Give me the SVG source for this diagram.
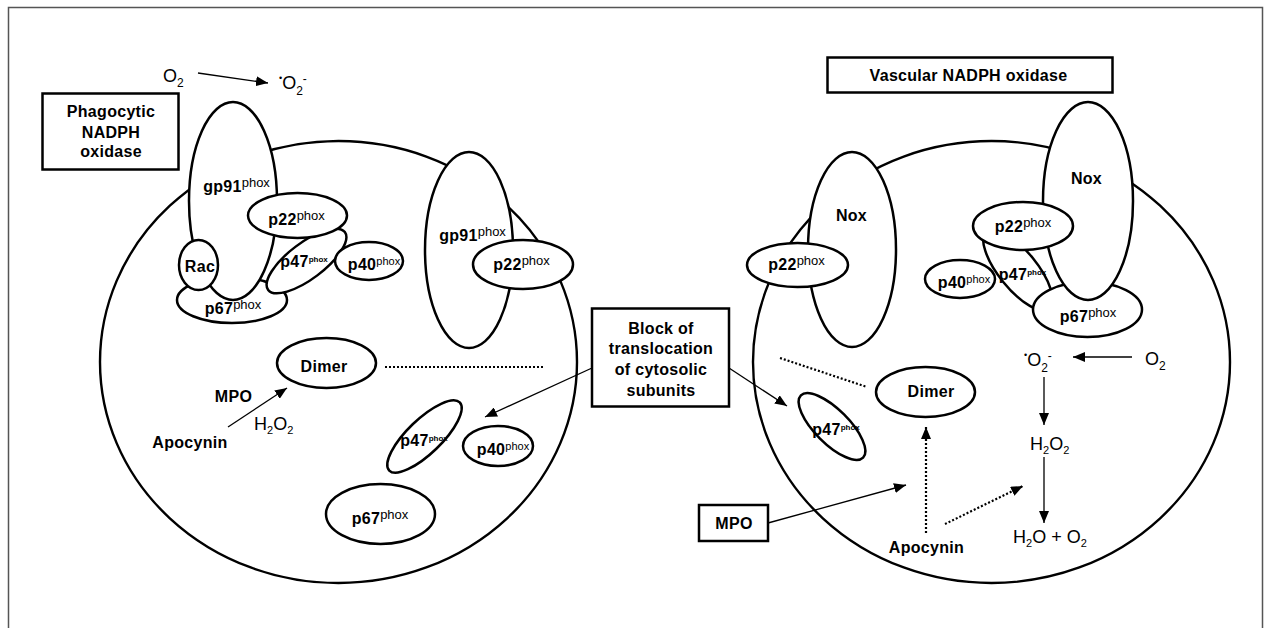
<svg xmlns="http://www.w3.org/2000/svg" width="1264" height="628" viewBox="0 0 1264 628">
<defs>
<style>
.cell{fill:none;stroke:#000;stroke-width:2.4}
.n{fill:#fff;stroke:#000;stroke-width:2.5}
.box{fill:#fff;stroke:#000;stroke-width:2.5}
.t{font-family:"Liberation Sans",Arial,sans-serif;font-weight:bold;font-size:16px;fill:#000;letter-spacing:0.3px}
.sup{font-weight:normal;font-size:13px;letter-spacing:0}
.sup11{font-weight:normal;font-size:11px;letter-spacing:0}
.sup8{font-weight:bold;font-size:8px;letter-spacing:0}
.c{font-family:"Liberation Sans",Arial,sans-serif;font-size:18px;fill:#000}
.ln{stroke:#000;stroke-width:1.3;fill:none}
.dt{stroke:#000;stroke-width:2.2;stroke-dasharray:2 2;fill:none}
</style>
<marker id="ah" viewBox="0 0 12 10" refX="12" refY="5" markerWidth="12" markerHeight="10" markerUnits="userSpaceOnUse" orient="auto"><path d="M0,0 L12,5 L0,10 z" fill="#000"/></marker>
</defs>
<rect width="1264" height="628" fill="#fff"/>
<path d="M8.5 628 V7.5 H1262.5 V628" fill="none" stroke="#555" stroke-width="1.5"/>

<g id="cell-left"><ellipse class="cell" cx="338.5" cy="362" rx="238.5" ry="221"/></g>
<g id="cell-right"><ellipse class="cell" cx="991.5" cy="362" rx="238.5" ry="221"/></g>

<g id="phagocytic-box">
<rect class="box" x="42.5" y="93.5" width="136" height="76"/>
<text class="t" x="111" y="117" text-anchor="middle">Phagocytic</text>
<text class="t" x="111" y="137.5" text-anchor="middle">NADPH</text>
<text class="t" x="111" y="157" text-anchor="middle">oxidase</text>
</g>

<g id="o2-top"><text class="c" x="163" y="82">O<tspan font-size="12" dy="5">2</tspan></text></g>
<g id="superoxide-top"><text class="c" x="279" y="88.5"><tspan font-size="9" dy="-8">•</tspan><tspan dy="8">O</tspan><tspan font-size="12" dy="6.5">2</tspan><tspan font-size="12" dy="-12">-</tspan></text></g>

<g id="p67-left-complex"><ellipse class="n" cx="232" cy="300" rx="55" ry="23"/><text class="t" x="233" y="313.5" text-anchor="middle">p67<tspan class="sup" dy="-5">phox</tspan></text></g>
<g id="p47-left-complex"><ellipse class="n" cx="306.5" cy="261" rx="48" ry="18" transform="rotate(-37 306.5 261)"/><text class="t" x="304" y="267" text-anchor="middle" font-size="15">p47<tspan class="sup8" dy="-5">phox</tspan></text></g>
<g id="gp91-left"><ellipse class="n" cx="233" cy="201" rx="44" ry="99"/><text class="t" x="236.5" y="191.5" text-anchor="middle">gp91<tspan class="sup" dy="-5">phox</tspan></text></g>
<g id="rac"><ellipse class="n" cx="198.5" cy="265" rx="19.5" ry="25"/><text class="t" x="200" y="271.5" text-anchor="middle">Rac</text></g>
<g id="p22-left-complex"><ellipse class="n" cx="297.5" cy="215.5" rx="49.5" ry="22.5"/><text class="t" x="296.5" y="225" text-anchor="middle">p22<tspan class="sup" dy="-5">phox</tspan></text></g>
<g id="p40-left-complex"><ellipse class="n" cx="369" cy="261" rx="34" ry="19"/><text class="t" x="374" y="270" text-anchor="middle">p40<tspan class="sup11" dy="-5">phox</tspan></text></g>

<g id="gp91-left-2"><ellipse class="n" cx="469" cy="250" rx="44" ry="98"/><text class="t" x="472.5" y="240.5" text-anchor="middle">gp91<tspan class="sup" dy="-5">phox</tspan></text></g>
<g id="p22-left-2"><ellipse class="n" cx="523" cy="264.5" rx="50" ry="24.5"/><text class="t" x="521.5" y="270" text-anchor="middle">p22<tspan class="sup" dy="-5">phox</tspan></text></g>

<g id="dimer-left"><ellipse class="n" cx="326.5" cy="363" rx="49.5" ry="25"/><text class="t" x="324" y="371.5" text-anchor="middle">Dimer</text></g>
<g id="mpo-left"><text class="t" x="233.5" y="401.5" text-anchor="middle">MPO</text></g>
<g id="h2o2-left"><text class="c" x="254" y="430" font-size="17">H<tspan font-size="11" dy="4">2</tspan><tspan dy="-4">O</tspan><tspan font-size="11" dy="4">2</tspan></text></g>
<g id="apocynin-left"><text class="t" x="190" y="448" text-anchor="middle">Apocynin</text></g>
<g id="p47-left-free"><ellipse class="n" cx="424.5" cy="436.5" rx="49" ry="17" transform="rotate(-44 424.5 436.5)"/><text class="t" x="424" y="446" text-anchor="middle" font-size="15">p47<tspan class="sup8" dy="-5">phox</tspan></text></g>
<g id="p40-left-free"><ellipse class="n" cx="498" cy="446" rx="35" ry="20"/><text class="t" x="503" y="455" text-anchor="middle">p40<tspan class="sup11" dy="-5">phox</tspan></text></g>
<g id="p67-left-free"><ellipse class="n" cx="380.5" cy="514" rx="54.5" ry="30"/><text class="t" x="380" y="524" text-anchor="middle">p67<tspan class="sup" dy="-5">phox</tspan></text></g>

<g id="block-box">
<rect class="box" x="592" y="308.5" width="137" height="98"/>
<text class="t" x="661" y="333.5" text-anchor="middle">Block of</text>
<text class="t" x="661" y="354" text-anchor="middle">translocation</text>
<text class="t" x="661" y="375" text-anchor="middle">of cytosolic</text>
<text class="t" x="661" y="395.5" text-anchor="middle">subunits</text>
</g>

<g id="vascular-box">
<rect class="box" x="827.5" y="57.5" width="285" height="35"/>
<text class="t" x="968.5" y="81" text-anchor="middle">Vascular NADPH oxidase</text>
</g>

<g id="nox-left"><ellipse class="n" cx="852" cy="249.5" rx="44" ry="97.5"/><text class="t" x="851.5" y="220.5" text-anchor="middle">Nox</text></g>
<g id="p22-right-1"><ellipse class="n" cx="797.5" cy="265" rx="50.5" ry="22"/><text class="t" x="796.5" y="270" text-anchor="middle">p22<tspan class="sup" dy="-5">phox</tspan></text></g>

<g id="p47-right-complex"><ellipse class="n" cx="1018" cy="270" rx="50" ry="19" transform="rotate(51 1018 270)"/><text class="t" x="1022.5" y="280" text-anchor="middle" font-size="15">p47<tspan class="sup8" dy="-5">phox</tspan></text></g>
<g id="p67-right-complex"><ellipse class="n" cx="1087.5" cy="309.5" rx="54.5" ry="27.5"/><text class="t" x="1088" y="321.5" text-anchor="middle">p67<tspan class="sup" dy="-5">phox</tspan></text></g>
<g id="nox-right"><ellipse class="n" cx="1088" cy="201" rx="45" ry="99"/><text class="t" x="1086.5" y="184" text-anchor="middle">Nox</text></g>
<g id="p22-right-complex"><ellipse class="n" cx="1023" cy="226" rx="50" ry="24"/><text class="t" x="1023" y="231.5" text-anchor="middle">p22<tspan class="sup" dy="-5">phox</tspan></text></g>
<g id="p40-right-complex"><ellipse class="n" cx="960" cy="279" rx="35" ry="19"/><text class="t" x="964" y="288" text-anchor="middle">p40<tspan class="sup11" dy="-5">phox</tspan></text></g>

<g id="dimer-right"><ellipse class="n" cx="925.5" cy="392" rx="49.5" ry="25"/><text class="t" x="931" y="397" text-anchor="middle">Dimer</text></g>
<g id="p47-right-free"><ellipse class="n" cx="832" cy="426.5" rx="44" ry="17" transform="rotate(45 832 426.5)"/><text class="t" x="836" y="435" text-anchor="middle" font-size="15">p47<tspan class="sup8" dy="-5">phox</tspan></text></g>
<g id="mpo-right-box"><rect class="box" x="699" y="505" width="69" height="36"/><text class="t" x="734" y="529" text-anchor="middle">MPO</text></g>
<g id="apocynin-right"><text class="t" x="926.5" y="553" text-anchor="middle">Apocynin</text></g>
<g id="superoxide-right"><text class="c" x="1024" y="366"><tspan font-size="9" dy="-8">•</tspan><tspan dy="8">O</tspan><tspan font-size="12" dy="6">2</tspan><tspan font-size="12" dy="-12">-</tspan></text></g>
<g id="o2-right"><text class="c" x="1145" y="365">O<tspan font-size="12" dy="5">2</tspan></text></g>
<g id="h2o2-right"><text class="c" x="1030" y="450" font-size="17">H<tspan font-size="11" dy="4">2</tspan><tspan dy="-4">O</tspan><tspan font-size="11" dy="4">2</tspan></text></g>
<g id="h2o-o2-right"><text class="c" x="1013" y="543" font-size="17">H<tspan font-size="11" dy="4">2</tspan><tspan dy="-4">O + O</tspan><tspan font-size="11" dy="4">2</tspan></text></g>

<g id="connectors">
<line class="ln" x1="198" y1="73" x2="268" y2="83" marker-end="url(#ah)"/>
<line class="ln" x1="228" y1="427" x2="287" y2="388" marker-end="url(#ah)"/>
<line class="dt" x1="385" y1="367" x2="543" y2="367"/>
<line class="ln" x1="592" y1="368" x2="485" y2="417" marker-end="url(#ah)"/>
<line class="ln" x1="729" y1="368" x2="787" y2="406" marker-end="url(#ah)"/>
<line class="dt" x1="780" y1="358" x2="867" y2="387"/>
<line class="ln" x1="768" y1="523" x2="906" y2="485" marker-end="url(#ah)"/>
<line class="dt" x1="926" y1="533" x2="926" y2="427" marker-end="url(#ah)"/>
<line class="dt" x1="945" y1="524" x2="1023" y2="486" marker-end="url(#ah)"/>
<line class="ln" x1="1132" y1="357" x2="1073" y2="357" marker-end="url(#ah)"/>
<line class="ln" x1="1044" y1="377" x2="1044" y2="425" marker-end="url(#ah)"/>
<line class="ln" x1="1044" y1="457" x2="1044" y2="523" marker-end="url(#ah)"/>
</g>
</svg>
